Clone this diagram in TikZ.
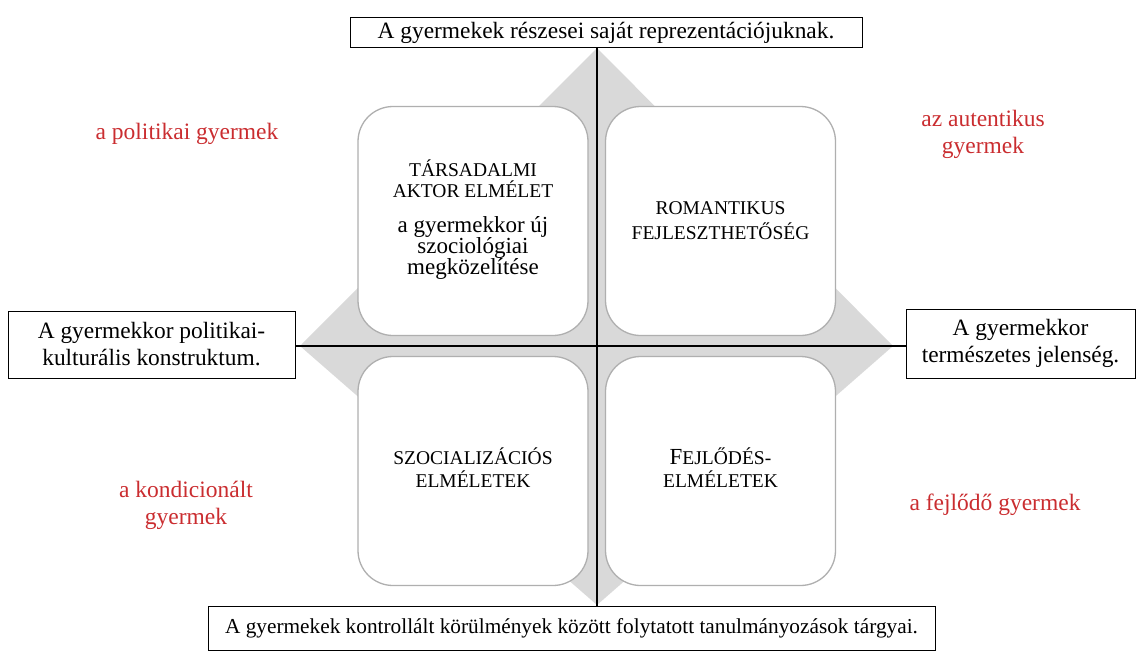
\documentclass[tikz,border=0pt]{standalone}
\usepackage{fontspec}
\setmainfont{Liberation Serif}
\usepackage{tikz}

\definecolor{labelred}{RGB}{202,45,48}
\definecolor{diamondgray}{RGB}{217,217,217}
\definecolor{cardedge}{RGB}{175,175,175}

\tikzset{
  axisbox/.style={draw=black, line width=1pt, fill=white, align=center,
    inner sep=0pt, font=\fontsize{23.4}{27}\selectfont},
  card/.style={draw=cardedge, line width=1.3pt, fill=white, rounded corners=35pt,
    minimum width=230pt, minimum height=229pt, align=center, inner sep=0pt,
    font=\fontsize{23}{21}\selectfont},
  redlabel/.style={text=labelred, align=center, font=\fontsize{23.5}{27}\selectfont},
  axisline/.style={line width=1.6pt, black}
}
\newcommand{\smallcap}[1]{{\fontsize{19.5}{23.5}\selectfont #1}}

\begin{document}
\begin{tikzpicture}[x=1pt, y=-1pt]
  \useasboundingbox (0,0) rectangle (1143,669);
  \coordinate (c) at (597,346);

  % szurke rombusz a hatterben
  \fill[diamondgray] (597,48) -- (893,346) -- (597,605) -- (300,346) -- cycle;

  % negy kartya
  \node[card] (tl) at (473,221) {\smallcap{TÁRSADALMI}\\\smallcap{AKTOR ELMÉLET}\\[14pt]
    a gyermekkor új\\szociológiai\\megközelítése\\[-14pt]};
  \node[card, font=\fontsize{19.5}{25}\selectfont] (tr) at (720.5,221)
    {ROMANTIKUS\\FEJLESZTHETŐSÉG};
  \node[card, font=\fontsize{19.5}{23.5}\selectfont] (bl) at (473,471)
    {SZOCIALIZÁCIÓS\\ELMÉLETEK\\[-17pt]};
  \node[card, font=\fontsize{19.5}{23.5}\selectfont] (br) at (720.5,471)
    {{\fontsize{23}{23.5}\selectfont F}EJLŐDÉS-\\ELMÉLETEK\\[-17pt]};

  % tengelyek vegpontjai
  \node[axisbox, minimum width=512pt, minimum height=30pt] (top) at (606,33)
    {A gyermekek részesei saját reprezentációjuknak.};
  \node[axisbox, minimum width=727pt, minimum height=44pt,
    font=\fontsize{21.3}{27}\selectfont] (bottom) at (571.5,628)
    {A gyermekek kontrollált körülmények között folytatott tanulmányozások tárgyai.};
  \node[axisbox, minimum width=287pt, minimum height=67pt] (left) at (151.5,344.5)
    {A gyermekkor politikai-\\kulturális konstruktum.};
  \node[axisbox, minimum width=229pt, minimum height=69pt] (right) at (1020.5,343.5)
    {A gyermekkor\\természetes jelenség.};

  % tengelyek
  \draw[axisline] (top.south -| c) -- (bottom.north -| c);
  \draw[axisline] (left.east |- c) -- (right.west |- c);

  % piros cimkek
  \node[redlabel] (pol) at (187,134) {a politikai gyermek};
  \node[redlabel] (aut) at (983,134) {az autentikus\\gyermek};
  \node[redlabel] (kond) at (186,505) {a kondicionált\\gyermek};
  \node[redlabel] (fejl) at (995,505) {a fejlődő gyermek};
\end{tikzpicture}
\end{document}
